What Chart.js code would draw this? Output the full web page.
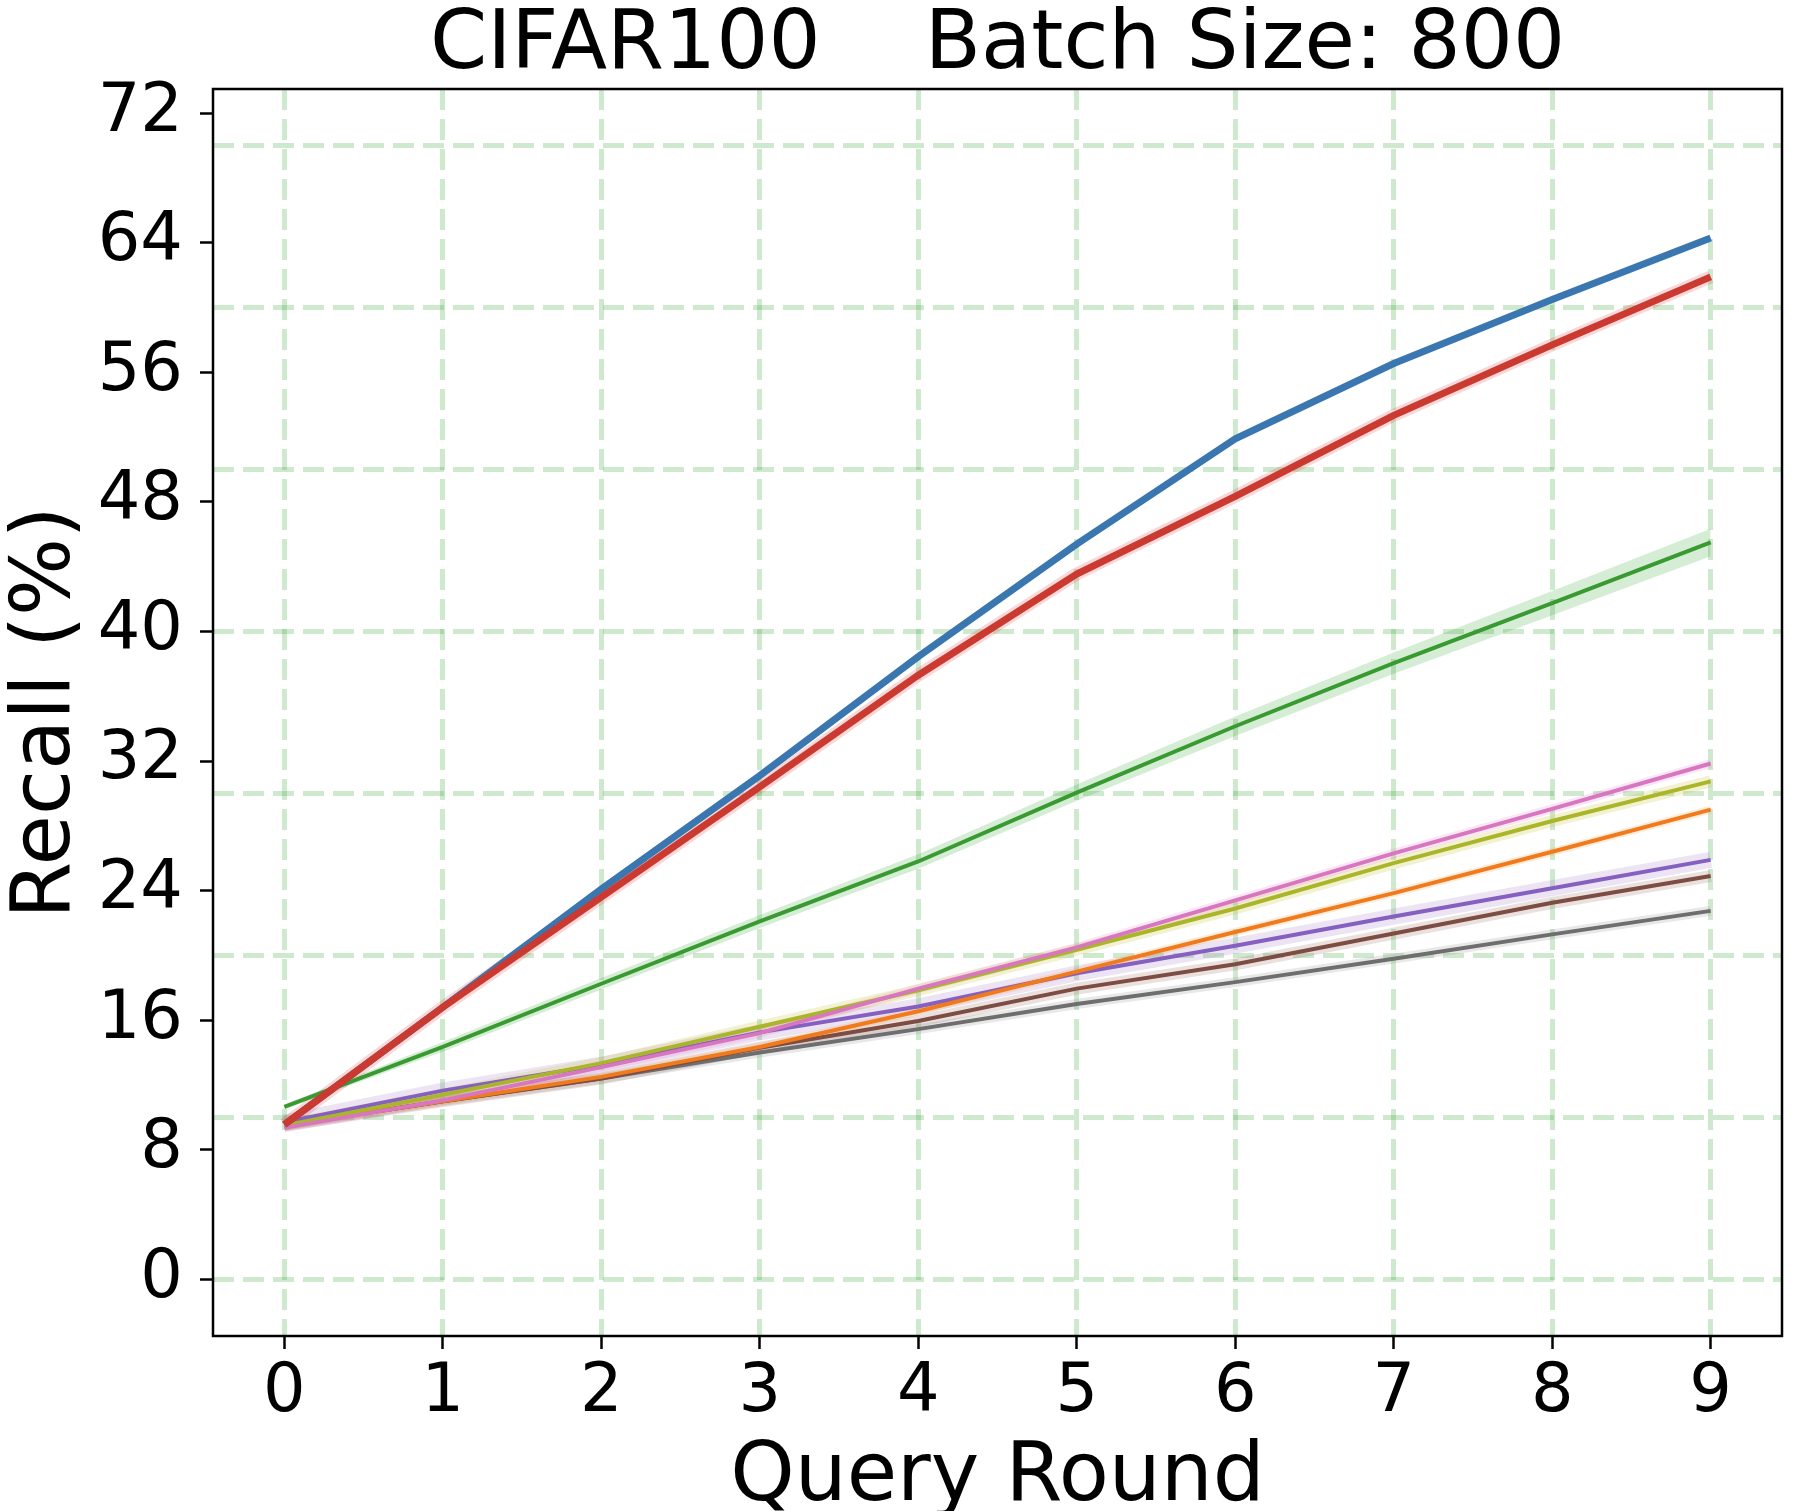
<!DOCTYPE html>
<html>
<head>
<meta charset="utf-8">
<script src="https://cdn.jsdelivr.net/npm/chart.js@4.4.1/dist/chart.umd.min.js"></script>
<style>
  html, body { margin: 0; padding: 0; background: #fff; }
  #wrap { width: 1794px; height: 1511px; }
</style>
</head>
<body>
<div id="wrap"><canvas id="recallChart" width="1794" height="1511"></canvas></div>
<script>
// Query rounds and axis ticks
const rounds = [0, 1, 2, 3, 4, 5, 6, 7, 8, 9];
const yTickLabels = [0, 8, 16, 24, 32, 40, 48, 56, 64, 72];
const yGridLines = [0, 10, 20, 30, 40, 50, 60, 70];

// Recall (%) per round
const blueRecall   = [9.55, 16.8, 24.1, 31.1, 38.45, 45.4, 51.9, 56.55, 60.5, 64.3];
const redRecall    = [9.55, 16.8, 23.6, 30.4, 37.3, 43.55, 48.35, 53.35, 57.7, 61.9];
const greenRecall  = [10.65, 14.35, 18.25, 22.1, 25.8, 30.05, 34.15, 38.05, 41.75, 45.5];
const greenStd     = [0.15, 0.3, 0.35, 0.4, 0.45, 0.5, 0.6, 0.65, 0.75, 0.85];
const pinkRecall   = [9.35, 11.05, 13.1, 15.2, 17.95, 20.5, 23.4, 26.3, 29.05, 31.85];
const oliveRecall  = [9.5, 11.4, 13.35, 15.6, 17.85, 20.35, 22.9, 25.7, 28.3, 30.75];
const orangeRecall = [9.5, 11.0, 12.5, 14.35, 16.55, 19.0, 21.45, 23.85, 26.4, 29.0];
const purpleRecall = [9.7, 11.65, 13.25, 15.25, 16.85, 18.9, 20.6, 22.4, 24.15, 25.9];
const brownRecall  = [9.5, 11.0, 12.4, 14.3, 15.95, 17.95, 19.45, 21.35, 23.25, 24.9];
const grayRecall   = [9.5, 11.0, 12.4, 14.0, 15.45, 17.0, 18.35, 19.8, 21.3, 22.75];

const GRID_GREEN = 'rgba(44, 160, 44, 0.23)';

function pts(vals) {
    return rounds.map((r, i) => ({ x: r, y: vals[i] }));
}

// style of every curve: [values, colour, line width, halo width, halo colour, draw order]
const series = [
    [redRecall,    '#cb3a30', 7, 13, 'rgba(214, 39, 40, 0.18)', 1],
    [blueRecall,   '#3a76b0', 7, 0,  null, 2],
    [greenRecall,  '#3a9a32', 4, 0,  null, 3],
    [pinkRecall,   '#d876c0', 4, 9,  'rgba(227, 119, 194, 0.18)', 4],
    [oliveRecall,  '#aab52a', 4, 12, 'rgba(188, 189, 34, 0.2)', 5],
    [orangeRecall, '#f07a1c', 4, 8,  'rgba(255, 127, 14, 0.15)', 6],
    [purpleRecall, '#8560c0', 4, 16, 'rgba(148, 103, 189, 0.18)', 7],
    [brownRecall,  '#7d4c42', 4, 12, 'rgba(140, 86, 75, 0.18)', 8],
    [grayRecall,   '#6e6e6e', 4, 10, 'rgba(127, 127, 127, 0.18)', 9]
];

const datasets = [];
series.forEach(([vals, color, width, halo, haloColor, order]) => {
    datasets.push({
        data: pts(vals), borderColor: color, borderWidth: width,
        pointRadius: 0, tension: 0, fill: false, order: order
    });
    if (halo > 0) {
        datasets.push({
            data: pts(vals), borderColor: haloColor, borderWidth: halo,
            pointRadius: 0, tension: 0, fill: false, order: 20
        });
    }
});

// green shaded band (mean +- std)
datasets.push({
    data: pts(greenRecall.map((v, i) => v + greenStd[i])),
    borderWidth: 0, pointRadius: 0, tension: 0,
    backgroundColor: 'rgba(44, 160, 44, 0.2)', fill: '+1', order: 30
});
datasets.push({
    data: pts(greenRecall.map((v, i) => v - greenStd[i])),
    borderWidth: 0, pointRadius: 0, tension: 0, fill: false, order: 30
});

// box around the plot area (matplotlib spines)
const framePlugin = {
    id: 'frame',
    afterDraw(chart) {
        const { ctx, chartArea } = chart;
        ctx.save();
        ctx.strokeStyle = '#000';
        ctx.lineWidth = 2.5;
        ctx.strokeRect(chartArea.left, chartArea.top,
            chartArea.right - chartArea.left, chartArea.bottom - chartArea.top);
        ctx.restore();
    }
};

Chart.defaults.font.family = "'DejaVu Sans', sans-serif";
Chart.defaults.color = '#000';

const ctx = document.getElementById('recallChart').getContext('2d');
const recallChart = new Chart(ctx, {
    type: 'line',
    data: { datasets: datasets },
    plugins: [framePlugin],
    options: {
        responsive: false,
        animation: false,
        devicePixelRatio: 1,
        layout: { padding: { left: 0, right: 12, top: 0, bottom: 0 } },
        plugins: {
            legend: { display: false },
            tooltip: { enabled: false },
            title: {
                display: true,
                fullSize: false,
                text: 'CIFAR100    Batch Size: 800',
                color: '#000',
                font: { size: 82, weight: 'normal', lineHeight: 1 },
                padding: { top: 6, bottom: 1 }
            }
        },
        scales: {
            x: {
                type: 'linear',
                min: -0.45,
                max: 9.45,
                afterBuildTicks: (scale) => { scale.ticks = rounds.map(v => ({ value: v })); },
                afterFit: (scale) => { scale.height = 175; },
                ticks: {
                    font: { size: 67 },
                    padding: 4,
                    maxRotation: 0,
                    autoSkip: false,
                    callback: (v) => String(v)
                },
                grid: {
                    color: GRID_GREEN,
                    lineWidth: 5,
                    drawTicks: true,
                    tickLength: 13,
                    tickWidth: 2.5,
                    tickColor: '#000',
                    tickBorderDash: []
                },
                border: { display: false, dash: [21, 9] },
                title: {
                    display: true,
                    text: 'Query Round',
                    font: { size: 82, lineHeight: 1 },
                    padding: { top: 0, bottom: -9 }
                }
            },
            y: {
                type: 'linear',
                min: -3.5,
                max: 73.5,
                afterBuildTicks: (scale) => {
                    const vals = Array.from(new Set(yTickLabels.concat(yGridLines))).sort((a, b) => a - b);
                    scale.ticks = vals.map(v => ({ value: v }));
                },
                afterFit: (scale) => { scale.width = 213; },
                ticks: {
                    font: { size: 67 },
                    padding: 17,
                    autoSkip: false,
                    callback: (v) => (yTickLabels.includes(v) ? String(v) : '')
                },
                grid: {
                    color: (c) => (c.tick && yGridLines.includes(c.tick.value) ? GRID_GREEN : 'rgba(0,0,0,0)'),
                    lineWidth: 5,
                    drawTicks: true,
                    tickLength: 13,
                    tickWidth: 2.5,
                    tickColor: (c) => (c.tick && yTickLabels.includes(c.tick.value) ? '#000' : 'rgba(0,0,0,0)'),
                    tickBorderDash: []
                },
                border: { display: false, dash: [21, 9] },
                title: {
                    display: true,
                    text: 'Recall (%)',
                    font: { size: 82, lineHeight: 1 },
                    padding: { top: 7, bottom: 0 }
                }
            }
        }
    }
});
</script>
</body>
</html>
